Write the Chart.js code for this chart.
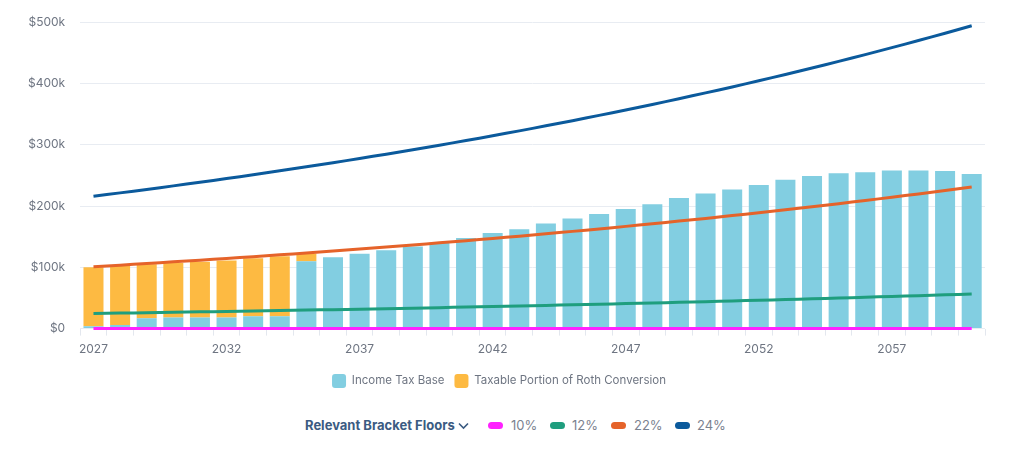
<!DOCTYPE html>
<html>
<head>
<meta charset="utf-8">
<script src="https://cdn.jsdelivr.net/npm/chart.js@4.4.1/dist/chart.umd.min.js"></script>
<style>
  html, body { margin: 0; padding: 0; background: #fff; font-family: Inter, "Noto Sans", sans-serif; }
  #wrap { position: relative; width: 1024px; height: 398px; }
  #legend2 { position: absolute; top: 416px; left: 0; width: 1024px; height: 20px; }
  .title { position: absolute; left: 305px; top: 0; font-size: 13px; font-weight: 700; color: #3b5b82; line-height: 18px; white-space: nowrap; }
  .title svg { vertical-align: middle; margin-left: 3px; }
  .item { position: absolute; top: 0; font-size: 13px; color: #7b828f; line-height: 18px; white-space: nowrap; }
  .pill { position: absolute; width: 15px; height: 7px; border-radius: 4px; top: 6px; }
</style>
</head>
<body>
<div id="wrap"><canvas id="c"></canvas></div>
<div id="legend2">
  <div class="title">Relevant Bracket Floors<svg width="11" height="8" viewBox="0 0 11 8"><path d="M1 1.5 L5.5 6 L10 1.5" fill="none" stroke="#3b5b82" stroke-width="1.6"/></svg></div>
  <div class="pill" style="left:488px;background:#ff22ff"></div><div class="item" style="left:511px">10%</div>
  <div class="pill" style="left:550px;background:#1f9e7e"></div><div class="item" style="left:572px">12%</div>
  <div class="pill" style="left:611px;background:#e5632a"></div><div class="item" style="left:634px">22%</div>
  <div class="pill" style="left:675px;background:#0b5a9c"></div><div class="item" style="left:697px">24%</div>
</div>
<script>
const years = [2027,2028,2029,2030,2031,2032,2033,2034,2035,2036,2037,2038,2039,2040,2041,2042,2043,2044,2045,2046,2047,2048,2049,2050,2051,2052,2053,2054,2055,2056,2057,2058,2059,2060];

const incomeTaxBase = [4000,6000,17000,18000,18000,18000,20000,20000,110000,116500,122000,128000,134000,140000,148000,156000,162000,171500,179600,187000,195000,203000,213000,220600,227000,234500,242700,249000,253500,255000,258000,258000,257000,252400];

const rothTaxable = [96000,96000,88000,89000,91000,93000,95000,98000,12000,0,0,0,0,0,0,0,0,0,0,0,0,0,0,0,0,0,0,0,0,0,0,0,0,0];

const floor10 = [0,0,0,0,0,0,0,0,0,0,0,0,0,0,0,0,0,0,0,0,0,0,0,0,0,0,0,0,0,0,0,0,0,0];

const floor12 = [24700,25330,25970,26630,27310,28000,28710,29440,30190,30960,31740,32550,33380,34220,35090,35990,36900,37840,38800,39780,40790,41830,42890,43980,45100,46250,47420,48620,49860,51130,52430,53760,55120,56520];

const floor22 = [101000,103570,106200,108900,111670,114500,117410,120390,123450,126580,129810,133100,136480,139950,143500,147150,150880,154720,158650,162680,166810,171040,175400,179850,184420,189100,193910,198830,203880,209060,214370,219820,225400,231130];

const floor24 = [216000,221490,227120,232890,238810,244880,251100,257470,264020,270710,277600,284640,291880,299290,306890,314690,322680,330890,339290,347910,356750,365800,375110,384630,394390,404420,414700,425220,436020,447100,458460,470100,482050,494290];

const yTicks = [0,100000,200000,300000,400000,500000];

function lineDs(label, data, color, stack) {
  return { type: 'line', label, data, borderColor: color, backgroundColor: color, borderWidth: 3,
           pointRadius: 0, pointHoverRadius: 0, tension: 0.3, fill: false, order: 0, stack, clip: false };
}

new Chart(document.getElementById('c'), {
  type: 'bar',
  data: {
    labels: years.map(String),
    datasets: [
      { label: 'Income Tax Base', data: incomeTaxBase, backgroundColor: '#82cee1', borderWidth: 0, stack: 'bars', order: 1,
        categoryPercentage: 0.8, barPercentage: 0.94 },
      { label: 'Taxable Portion of Roth Conversion', data: rothTaxable, backgroundColor: '#fdba42', borderWidth: 0, stack: 'bars', order: 1,
        categoryPercentage: 0.8, barPercentage: 0.94 },
      lineDs('10%', floor10, '#ff22ff', 'l10'),
      lineDs('12%', floor12, '#1f9e7e', 'l12'),
      lineDs('22%', floor22, '#e5632a', 'l22'),
      lineDs('24%', floor24, '#0b5a9c', 'l24')
    ]
  },
  options: {
    responsive: true,
    maintainAspectRatio: false,
    animation: false,
    layout: { padding: { top: 2, left: 13, right: 39, bottom: 0 } },
    plugins: {
      tooltip: { enabled: false },
      legend: {
        position: 'bottom',
        labels: {
          filter: (item) => item.datasetIndex < 2,
          boxWidth: 14, boxHeight: 14, useBorderRadius: true, borderRadius: 3,
          padding: 10,
          color: '#6e7582',
          font: { family: 'Inter', size: 11.5 }
        }
      }
    },
    scales: {
      x: {
        stacked: true,
        offset: true,
        border: { display: false },
        grid: { display: true, drawOnChartArea: false, drawTicks: true, tickLength: 7, color: '#e3e7ee' },
        ticks: {
          autoSkip: false, maxRotation: 0, padding: 7,
          color: '#6e7582', font: { family: 'Inter', size: 12 },
          callback: function(v, i) { return i % 5 === 0 ? years[i] : ''; }
        }
      },
      y: {
        stacked: true,
        min: 0, max: 500000,
        afterBuildTicks: (s) => { s.ticks = yTicks.map(v => ({ value: v })); },
        border: { display: false },
        grid: { color: '#e8ecf2', drawTicks: false, lineWidth: 1 },
        ticks: {
          padding: 15, color: '#6e7582', font: { family: 'Inter', size: 12 },
          callback: (v) => v === 0 ? '$0' : '$' + (v / 1000) + 'k'
        }
      }
    }
  }
});
</script>
</body>
</html>
